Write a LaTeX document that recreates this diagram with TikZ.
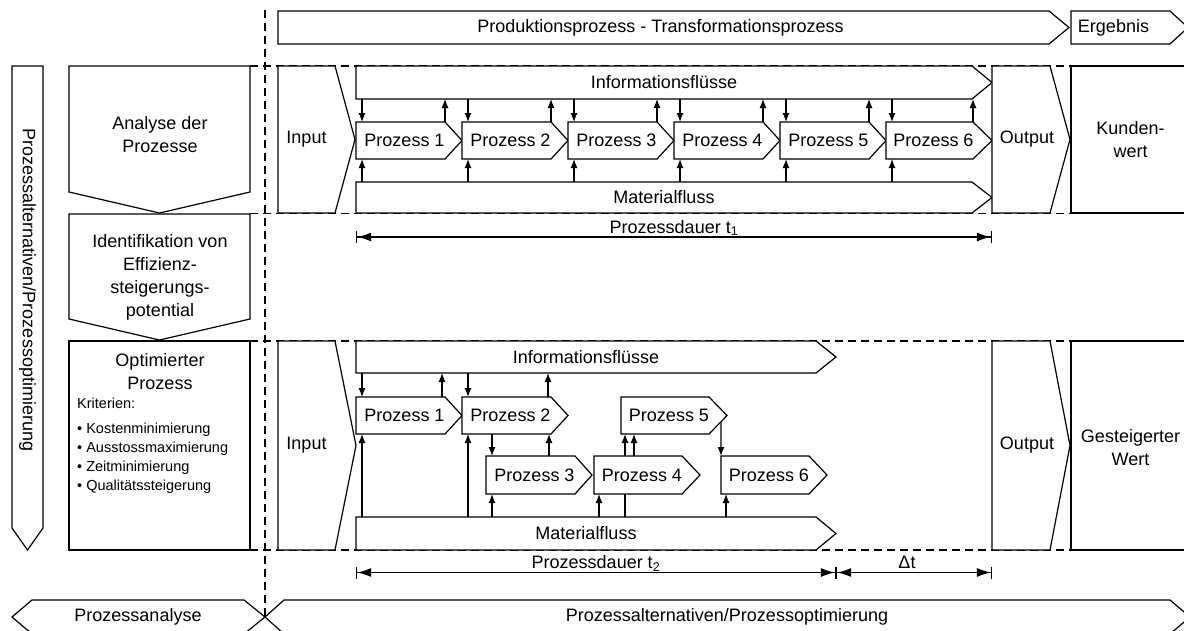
\documentclass[tikz,border=0pt]{standalone}
\usepackage{fontspec}
\setmainfont{Liberation Sans}
\usetikzlibrary{arrows.meta,calc}
\newcommand\rarr[8]{%
  \node[body, minimum width=#4pt, minimum height=#5pt] (#1) at (#2,#3) {};
  \draw[shp] (#1.north west) -- (#1.north east) -- ([xshift=#6pt]#1.east) -- (#1.south east) -- (#1.south west) -- cycle;
  \node[txt] (#1t) at ([xshift=#8pt]#1.center) {#7};
}
\newcommand\darr[6]{%
  \node[body, minimum width=#4pt, minimum height=#5pt] (#1) at (#2,#3) {};
  \draw[shp] (#1.north west) -- (#1.north east) -- (#1.south east) -- ([yshift=-#6pt]#1.south) -- (#1.south west) -- cycle;
}
\newcommand\rbox[5]{%
  \node[body, minimum width=#4pt, minimum height=#5pt] (#1) at (#2,#3) {};
  \draw[shp] (#1.north west) rectangle (#1.south east);
}
\begin{document}
\begin{tikzpicture}[x=1pt,y=-1pt,
  line/.style={line width=1.2pt},
  shp/.style={line width=1.2pt, fill=white},
  txt/.style={font=\fontsize{18}{23}\selectfont, align=center, inner sep=0},
  small/.style={font=\fontsize{14.5}{19}\selectfont, align=left, inner sep=0},
  body/.style={inner sep=0, outer sep=0, anchor=north west},
  arr/.style={line width=1.2pt, -{Latex[length=9pt,width=7pt]}},
  dimline/.style={line width=1.2pt, {Bar[width=12pt]Latex[length=14pt,width=9pt]}-{Latex[length=14pt,width=9pt]Bar[width=12pt]}},
  sepline/.style={line width=1.2pt, dash pattern=on 8pt off 5pt},
]
\useasboundingbox (0,0) rectangle (1184,630);

% separator lines
\coordinate (vt) at (265,10);
\coordinate (vb) at (265,617);
\draw[sepline] (vt) -- (vb);
\foreach \yy/\nm in {66/h1,213.5/h2,341/h3,550/h4}{
  \coordinate (\nm a) at (250,\yy);
  \coordinate (\nm b) at (1184,\yy);
  \draw[sepline] (\nm a) -- (\nm b);
}

% top banner
\rarr{ban}{278}{11}{771}{33}{20}{Produktionsprozess - Transformationsprozess}{-3}
\rarr{erg}{1071}{11}{99}{33}{18}{Ergebnis}{-7}

% left long arrow
\darr{la}{12}{66}{31}{462}{22}
\node[txt, rotate=-90] (lat) at (27.5,290) {Prozessalternativen/Prozessoptimierung};

% left column
\darr{an}{69}{66}{181}{126}{21}
\node[txt] (ant) at (160,134.5) {Analyse der\\Prozesse};
\darr{id}{69}{214}{181}{105}{21}
\node[txt] (idt) at (160,277.5) {Identifikation von\\Effizienz-\\steigerungs-\\potential};
\rbox{op}{69}{341}{181}{209}
\node[txt] (opt) at (160,371.5) {Optimierter\\Prozess};
\node[small, anchor=north west] (krit) at (77,398) {Kriterien:\\[6pt]\textbullet\ Kostenminimierung\\\textbullet\ Ausstossmaximierung\\\textbullet\ Zeitminimierung\\\textbullet\ Qualitätssteigerung};

% row 1
\rarr{in1}{278}{66}{57}{147}{20}{Input}{0}
\rarr{inf1}{356}{66}{616}{33}{20}{Informationsflüsse}{0}
\rarr{mat1}{356}{182}{616}{31}{20}{Materialfluss}{0}
\rarr{p1}{356}{122}{89}{37}{17}{Prozess 1}{4}
\rarr{p2}{462}{122}{89}{37}{17}{Prozess 2}{4}
\rarr{p3}{568}{122}{89}{37}{17}{Prozess 3}{4}
\rarr{p4}{674}{122}{89}{37}{17}{Prozess 4}{4}
\rarr{p5}{780}{122}{89}{37}{17}{Prozess 5}{4}
\rarr{p6}{886}{122}{87}{37}{19}{Prozess 6}{4}
\rarr{out1}{992}{66}{58}{147}{20}{Output}{6}
\rbox{kw}{1071}{66}{119}{147}
\node[txt] (kwt) at (kw.center) {Kunden-\\wert};

\foreach \k in {1,...,6}{
  \draw[arr] ([xshift=6pt]p\k.north west |- inf1.south) -- ([xshift=6pt]p\k.north west);
  \draw[arr] (p\k.north east) -- (p\k.north east |- inf1.south);
  \draw[arr] ([xshift=6pt]p\k.south west |- mat1.north) -- ([xshift=6pt]p\k.south west);
}

% duration 1
\coordinate (d1a) at (356,237);
\coordinate (d1b) at (992,237);
\draw[dimline] (d1a) -- (d1b) node[txt, midway, anchor=base, yshift=4pt] (d1t) {Prozessdauer t\textsubscript{1}};

% row 2
\rarr{in2}{278}{341}{57}{209}{21}{Input}{0}
\rarr{inf2}{356}{341}{460}{32}{20}{Informationsflüsse}{0}
\rarr{mat2}{356}{517}{460}{33}{20}{Materialfluss}{0}
\rarr{q1}{356}{397}{89}{37}{17}{Prozess 1}{4}
\rarr{q2}{462}{397}{89}{37}{17}{Prozess 2}{4}
\rarr{q3}{486}{456}{89}{38}{17}{Prozess 3}{4}
\rarr{q4}{594}{456}{88}{38}{18}{Prozess 4}{4}
\rarr{q5}{621}{397}{88}{37}{18}{Prozess 5}{4}
\rarr{q6}{721}{456}{88}{38}{18}{Prozess 6}{4}
\rarr{out2}{992}{341}{58}{209}{20}{Output}{6}
\rbox{gw}{1071}{341}{119}{209}
\node[txt] (gwt) at ([yshift=-2pt]gw.center) {Gesteigerter\\Wert};

\draw[arr] ([xshift=6pt]q1.north west |- inf2.south) -- ([xshift=6pt]q1.north west);
\draw[arr] ([xshift=-3pt]q1.north east) -- ([xshift=-3pt]q1.north east |- inf2.south);
\draw[arr] ([xshift=6pt]q2.north west |- inf2.south) -- ([xshift=6pt]q2.north west);
\draw[arr] ([xshift=-3pt]q2.north east) -- ([xshift=-3pt]q2.north east |- inf2.south);
\draw[arr] ([xshift=6pt]q1.south west |- mat2.north) -- ([xshift=6pt]q1.south west);
\draw[arr] ([xshift=6pt]q2.south west |- mat2.north) -- ([xshift=6pt]q2.south west);
\draw[arr] ([xshift=6pt]q3.north west |- q2.south) -- ([xshift=6pt]q3.north west);
\draw[arr] ([xshift=-2pt]q2.south east |- q3.north) -- ([xshift=-2pt]q2.south east);
\draw[arr] ([xshift=6pt]q3.south west |- mat2.north) -- ([xshift=6pt]q3.south west);
\draw[arr] ([xshift=5pt]q4.south west |- mat2.north) -- ([xshift=5pt]q4.south west);
\draw[line] ([xshift=31pt]q4.south west) -- ([xshift=31pt]q4.south west |- mat2.north);
\draw[arr] ([xshift=4pt]q5.south west |- q4.north) -- ([xshift=4pt]q5.south west);
\draw[arr] ([xshift=13pt]q5.south west |- q4.north) -- ([xshift=13pt]q5.south west);
\coordinate (q5tip) at ([xshift=18pt]q5.east);
\draw[arr] ($(q5.south east)!0.667!(q5tip)$) -- (q6.north west);
\draw[arr] ([xshift=5pt]q6.south west |- mat2.north) -- ([xshift=5pt]q6.south west);

% duration 2
\coordinate (d2a) at (356,572.5);
\coordinate (d2m) at (836,572.5);
\coordinate (d2b) at (992,572.5);
\draw[dimline] (d2a) -- (d2m) node[txt, midway, anchor=base, yshift=4pt] (d2t) {Prozessdauer t\textsubscript{2}};
\draw[dimline] (d2m) -- (d2b) node[txt, midway, anchor=base, yshift=4pt, xshift=-7pt] (dtt) {Δt};

% bottom arrows
\node[body, minimum width=212pt, minimum height=34pt] (pa) at (32,600) {};
\draw[shp] (pa.north west) -- (pa.north east) -- ([xshift=21pt]pa.east) -- (pa.south east) -- (pa.south west) -- ([xshift=-20pt]pa.west) -- cycle;
\node[txt] (pat) at (pa.center) {Prozessanalyse};
\node[body, minimum width=886pt, minimum height=34pt] (po) at (284,600) {};
\draw[shp] (po.north west) -- (po.north east) -- ([xshift=20pt]po.east) -- (po.south east) -- (po.south west) -- ([xshift=-19pt]po.west) -- cycle;
\node[txt] (pot) at (po.center) {Prozessalternativen/Prozessoptimierung};
\end{tikzpicture}
\end{document}
